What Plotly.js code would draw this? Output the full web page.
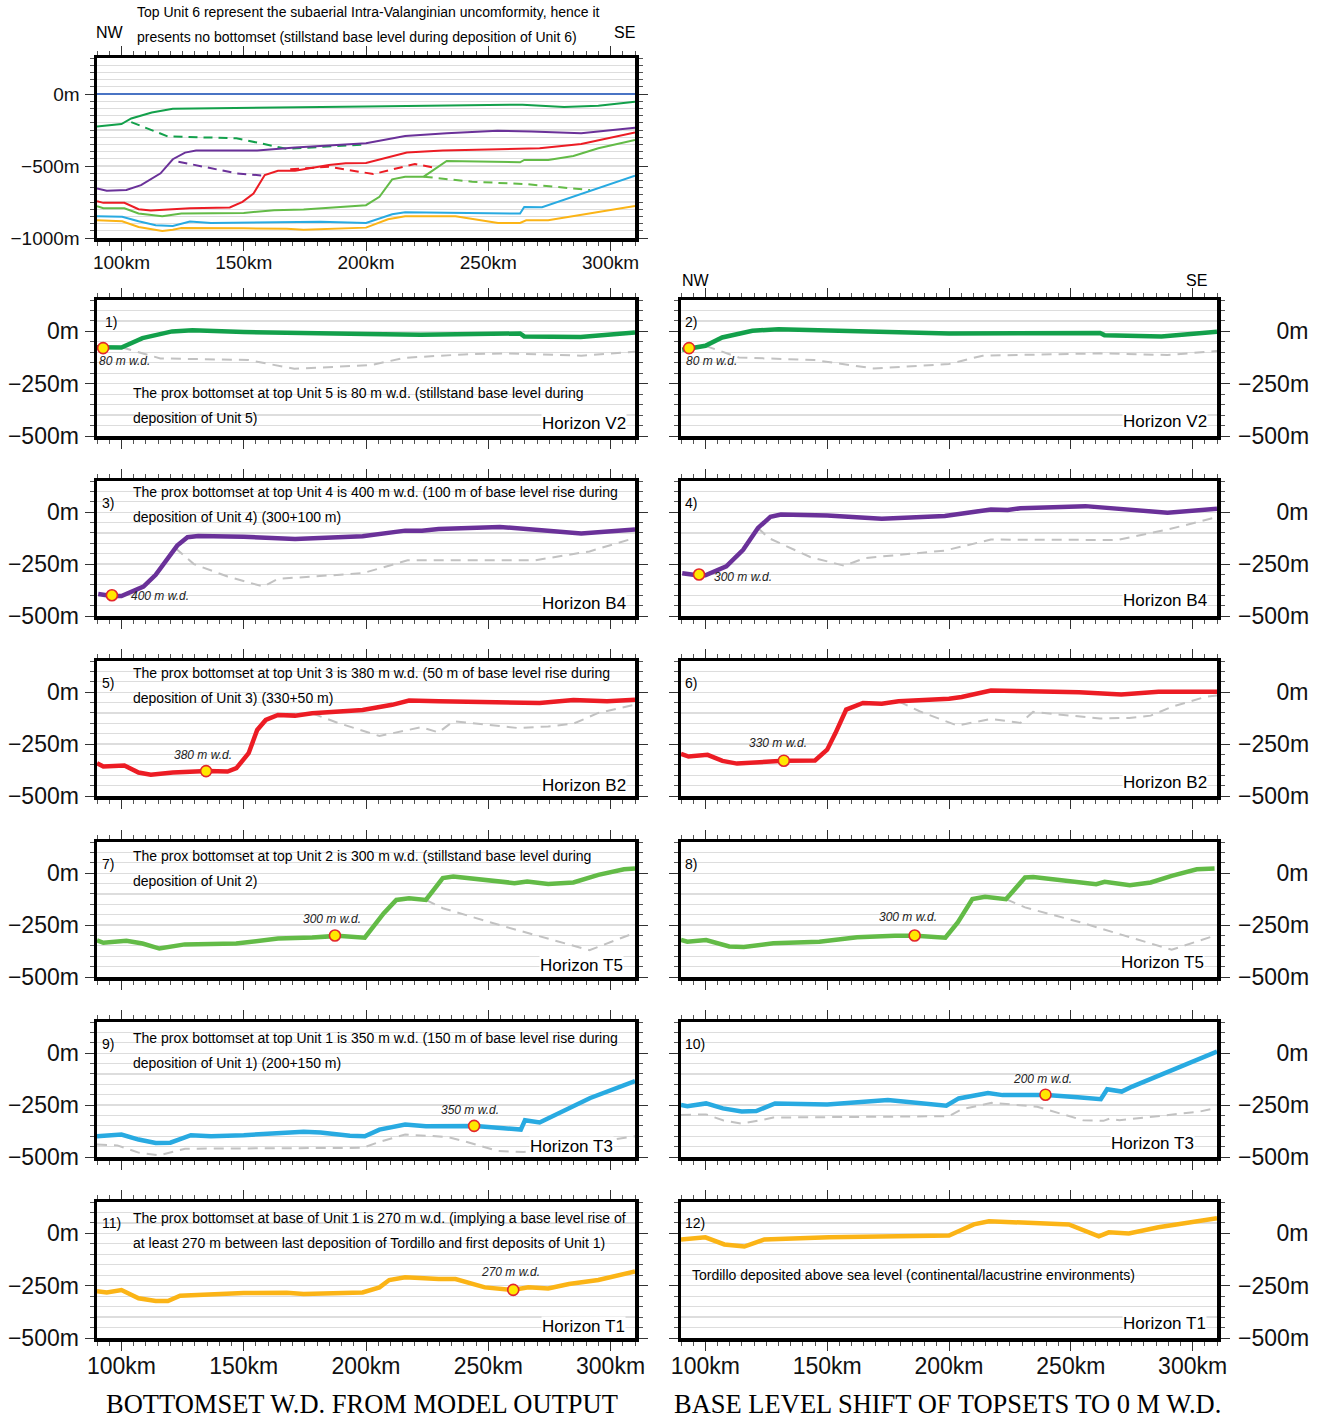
<!DOCTYPE html>
<html>
<head>
<meta charset="utf-8">
<script src="https://cdn.plot.ly/plotly-3.0.1.min.js"></script>
<style>html,body{margin:0;padding:0;background:#fff}</style>
</head>
<body>
<div id="chart" style="width:1317px;height:1421px"></div>
<script>
// ---------- Overview panel: absolute depth of each horizon (m) ----------
const top_km_sea = [90, 310];
const top_sea = [0, 0];
const top_km_v2 = [90, 100, 104, 112.4, 121, 150, 200, 250, 264, 281, 295, 310];
const top_v2 = [-226, -209, -170, -128, -102, -98, -86, -77, -74, -91, -81, -53];
const top_km_v2_dash = [104, 119, 147, 167.6, 200];
const top_v2_dash = [-195, -295, -307, -381, -350];
const top_km_b4 = [90, 94, 102, 108, 116, 121, 126, 130.5, 155.5, 171, 200, 216, 233, 253.8, 267.6, 288, 310];
const top_b4 = [-656, -672, -667, -633, -551, -453, -407, -393, -393, -372, -342, -291, -272, -256, -260, -272, -235];
const top_km_b4_dash = [123.3, 147, 158];
const top_b4_dash = [-470, -551, -567];
const top_km_b2 = [90, 92.6, 101.2, 107, 112, 121, 128, 144.3, 149.5, 154, 158.6, 164, 171, 184.8, 191.7, 200, 216.7, 231.4, 253.8, 271, 288, 298.6, 310];
const top_b2 = [-744, -756, -756, -800, -809, -802, -793, -788, -749, -691, -563, -533, -533, -493, -481, -479, -407, -393, -386, -377, -347, -307, -267];
const top_km_b2_dash = [169, 184.8, 203, 220, 228];
const top_b2_dash = [-523, -505, -556, -486, -512];
const top_km_t5 = [90, 92.6, 101.2, 107, 116.7, 124.5, 150, 162.4, 174.5, 188, 200, 205.5, 210.7, 216, 223.6, 233, 248.6, 263, 264.7, 274.5, 284.8, 295, 310];
const top_t5 = [-779, -793, -793, -830, -849, -830, -826, -807, -802, -784, -772, -714, -593, -574, -574, -465, -470, -474, -458, -458, -430, -377, -319];
const top_km_t5_dash = [223.6, 243.4, 265.5, 291.6];
const top_t5_dash = [-574, -609, -626, -667];
const top_km_t3 = [90, 100.3, 107, 114, 121, 128, 136.6, 171, 181.4, 200, 210.7, 216, 233, 263, 264.7, 272, 310];
const top_t3 = [-849, -853, -884, -912, -916, -886, -895, -893, -888, -895, -835, -821, -826, -830, -784, -786, -567];
const top_km_t1 = [90, 100.3, 107, 116.7, 121, 124.5, 150, 167.6, 174.5, 200, 209, 216, 236.6, 254, 263, 265.5, 274.5, 283, 295, 310];
const top_t1 = [-877, -884, -923, -951, -942, -930, -933, -935, -942, -928, -870, -849, -849, -895, -895, -877, -877, -853, -823, -777];

// ---------- Horizon panels: water depth (m) and previous-horizon profile ----------
const p1_km = [90, 100, 108.6, 120.7, 129, 150, 200, 222.4, 263, 264.7, 287.8, 310];
const p1_wd = [-76, -77, -32, 0, 5, -3, -13, -16, -10, -24, -27, -5];
const p1_prev_km = [100, 115.9, 152, 170.7, 202, 216, 240, 257, 288, 310];
const p1_prev = [-76, -129, -137, -179, -161, -126, -110, -105, -116, -97];

const p2_km = [90.5, 100, 106.9, 119.3, 130, 150, 200, 262, 263.8, 287.2, 310];
const p2_wd = [-88, -69, -29, 3, 10, 3, -10, -8, -18, -24, -2];
const p2_prev_km = [100, 113.8, 144.8, 169, 200, 213.8, 262, 289.6, 310];
const p2_prev = [-69, -125, -137, -177, -156, -116, -105, -113, -94];

const p3_km = [90.5, 96, 100, 109, 114, 119.3, 122.8, 127, 131.4, 150, 171, 198.6, 216, 222.9, 229.7, 254.7, 267.6, 288, 310];
const p3_wd = [-394, -404, -404, -358, -302, -221, -161, -121, -115, -119, -129, -116, -89, -90, -81, -71, -85, -103, -84];
const p3_prev_km = [122, 129.6, 143.4, 158, 164, 198.6, 217, 269, 291.4, 310];
const p3_prev = [-172, -250, -310, -358, -321, -294, -232, -232, -189, -124];

const p4_km = [90.5, 96.6, 100, 108.6, 115.5, 121.6, 126.7, 131, 150, 172.4, 198.3, 217.2, 224.1, 229.3, 256, 270.7, 289.7, 310];
const p4_wd = [-294, -304, -304, -261, -181, -76, -23, -11, -16, -32, -19, 13, 10, 19, 29, 16, -3, 16];
const p4_prev_km = [121.6, 125.9, 143, 157, 165.5, 198.3, 217.2, 269, 289.7, 310];
const p4_prev = [-76, -124, -216, -258, -221, -185, -132, -134, -84, -24];

const p5_km = [90, 92.6, 101.2, 107, 112, 121, 135, 143.4, 147, 152, 155.5, 159, 164, 171, 178, 198.6, 210.7, 217.6, 229.7, 262.4, 271, 284.8, 298.6, 310];
const p5_wd = [-342, -358, -353, -387, -398, -387, -380, -382, -366, -294, -182, -134, -110, -113, -102, -86, -61, -40, -44, -48, -52, -38, -44, -36];
const p5_prev_km = [178, 188.3, 205.5, 222.6, 229.7, 235.7, 262.4, 274.5, 284.8, 295, 310];
const p5_prev = [-102, -147, -211, -169, -194, -140, -173, -165, -152, -100, -60];

const p6_km = [90, 93.1, 100.9, 107, 113, 124, 132, 145, 150, 153.4, 157.8, 164.7, 172.4, 179.3, 200, 205.2, 217.2, 227.6, 253.4, 270.7, 286, 310];
const p6_wd = [-297, -310, -302, -331, -344, -334, -330, -329, -277, -197, -84, -52, -56, -44, -32, -23, 8, 5, 0, -11, 2, 2];
const p6_prev_km = [179.3, 187.9, 203.4, 217.2, 229.3, 234.5, 262, 274, 282.8, 291.4, 305.2, 310];
const p6_prev = [-44, -92, -161, -129, -148, -95, -127, -124, -113, -71, -23, -16];

const p7_km = [90, 92.6, 102, 108.6, 115.5, 125.9, 146.9, 164, 178, 188.3, 199.5, 207.2, 212.4, 217.6, 224.5, 231.4, 235.7, 260.7, 265.9, 274.5, 284.8, 295, 305.5, 310];
const p7_wd = [-323, -335, -326, -339, -363, -343, -339, -315, -310, -302, -311, -194, -129, -121, -129, -24, -16, -48, -40, -52, -45, -8, 19, 23];
const p7_prev_km = [224.5, 231.4, 257, 291.4, 310];
const p7_prev = [-129, -169, -258, -371, -287];

const p8_km = [90, 92.6, 100.3, 109.8, 115.8, 127.9, 146.8, 162.3, 177.8, 186.4, 198.5, 203.6, 209.6, 214.8, 223.4, 231.2, 234.6, 260.4, 263.9, 274.2, 282.8, 291.4, 301.7, 309];
const p8_wd = [-321, -330, -322, -353, -356, -338, -330, -309, -301, -301, -311, -237, -125, -114, -125, -21, -18, -53, -42, -58, -45, -13, 19, 22];
const p8_prev_km = [223.4, 231.2, 254, 291.4, 309];
const p8_prev = [-125, -165, -237, -369, -301];

const p9_km = [90, 100, 107, 114, 120, 128.4, 136.6, 150, 174.5, 181.4, 193.4, 199.5, 205.5, 216, 224.5, 240, 244.8, 263.3, 265, 271, 276.2, 291.7, 310];
const p9_wd = [-400, -392, -416, -432, -431, -395, -400, -395, -379, -382, -398, -400, -368, -344, -352, -352, -351, -368, -323, -334, -303, -216, -134];
const p9_prev_km = [90, 98.3, 107, 115.5, 126, 170.7, 198.6, 205.5, 216, 233, 240, 253.8, 264.5, 295, 310];
const p9_prev = [-440, -444, -479, -492, -460, -456, -456, -427, -392, -403, -423, -471, -476, -427, -400];

const p10_km = [90, 92.6, 100.3, 107.2, 114.9, 120.9, 128.6, 150, 174.9, 191.2, 198.9, 204, 216, 222, 240, 252.9, 262.3, 264.9, 270.9, 275.2, 292.3, 310];
const p10_wd = [-250, -255, -242, -266, -281, -279, -242, -247, -226, -247, -253, -218, -192, -202, -201, -212, -222, -174, -185, -161, -77, 8];
const p10_prev_km = [90, 100.3, 107.2, 114.9, 122.6, 127.9, 174.9, 200, 205, 217.5, 236.2, 255, 263.4, 265.9, 270, 287.4, 302.6, 310];
const p10_prev = [-298, -295, -323, -339, -323, -310, -306, -303, -271, -239, -258, -323, -326, -315, -323, -303, -282, -263];

const p11_km = [90, 94, 100, 107, 114, 119, 124, 150, 167.6, 174.5, 198.6, 205.5, 209.5, 216, 229.7, 236.6, 248.6, 260, 266.4, 274.5, 283, 295, 310];
const p11_wd = [-277, -282, -271, -310, -323, -323, -298, -285, -284, -290, -282, -258, -223, -210, -218, -218, -258, -271, -258, -263, -242, -223, -182];

const p12_km = [90, 100, 107.8, 116, 124.2, 150.8, 200, 210.2, 216.4, 236.9, 249.2, 261.5, 265.6, 273.8, 286, 310];
const p12_wd = [-29, -19, -53, -63, -29, -19, -10, 43, 58, 48, 43, -14, 5, 0, 29, 72];

// Proximal bottomset picks: [km, water depth]
const pick_km = [92.5, 93.3, 96.1, 97.4, 134.6, 132.2, 187.3, 185.9, 244.2, 239.6, 260.2];
const pick_wd = [-80, -80, -400, -300, -380, -330, -300, -300, -350, -200, -270];
const pick_text = ['80 m w.d.', '80 m w.d.', '400 m w.d.', '300 m w.d.', '380 m w.d.', '330 m w.d.',
                   '300 m w.d.', '300 m w.d.', '350 m w.d.', '200 m w.d.', '270 m w.d.'];

const yTickVals = [0, -250, -500];
const topYTickVals = [0, -500, -1000];

// ---------- Styling ----------
const C_SEA = '#4a74c4', C_V2 = '#13a04b', C_B4 = '#6a3199', C_B2 = '#ec1c24',
      C_T5 = '#63bb47', C_T3 = '#28aae1', C_T1 = '#fbb416', C_PREV = '#c2c2c2';
const FONT = 'Liberation Sans, Arial, sans-serif';
const SERIF = 'Liberation Serif, Times New Roman, serif';
const W = 1317, H = 1421;
const fx = v => v / W;
const fy = v => 1 - v / H;

const fmtM = v => (v < 0 ? '\u2212' + Math.abs(v) : String(v)) + 'm';
const padLabel = s => '\u2007'.repeat(Math.max(0, 5 - s.length)) + s;

function xAxis(left, right, anchor, labels, fontSize) {
  return {
    domain: [fx(left), fx(right)], anchor: anchor,
    range: [90, 310], tick0: 0, dtick: 50,
    ticks: 'outside', ticklen: 9, tickwidth: 1, tickcolor: '#333',
    minor: {dtick: 5, ticks: 'outside', ticklen: 4, tickwidth: 1, tickcolor: '#555', showgrid: false},
    showline: true, linewidth: 3.5, linecolor: '#000', mirror: 'ticks',
    showgrid: false, zeroline: false,
    showticklabels: labels, ticksuffix: 'km', ticklabelstandoff: -4,
    tickfont: {family: FONT, size: fontSize, color: '#111'}, fixedrange: true
  };
}

function yAxis(top, bottom, anchor, range, vals, minorStep, side, fontSize) {
  const text = vals.map(v => side === 'right' ? padLabel(fmtM(v)) : fmtM(v));
  return {
    domain: [fy(bottom), fy(top)], anchor: anchor, side: side,
    range: range, tickmode: 'array', tickvals: vals, ticktext: text,
    ticks: 'outside', ticklen: 9, tickwidth: 1, tickcolor: '#333',
    minor: {dtick: minorStep, tick0: 0, ticks: 'outside', ticklen: 4, tickwidth: 1, tickcolor: '#555',
            showgrid: true, gridcolor: '#dddddd', gridwidth: 1.2},
    showline: true, linewidth: 3.5, linecolor: '#000', mirror: 'ticks',
    showgrid: true, gridcolor: '#dddddd', gridwidth: 1.2, zeroline: false,
    ticklabelstandoff: side === 'right' ? 4 : 1,
    tickfont: {family: FONT, size: fontSize, color: '#111'}, fixedrange: true
  };
}

const layout = {
  width: W, height: H, margin: {l: 0, r: 0, t: 0, b: 0},
  paper_bgcolor: '#fff', plot_bgcolor: '#fff', showlegend: false,
  font: {family: FONT, color: '#000'},
  annotations: []
};

// Overview panel
layout.xaxis = xAxis(97, 635, 'y', true, 19);
layout.yaxis = yAxis(58, 238, 'x', [-1000, 250], topYTickVals, 50, 'left', 19);

// Horizon panels
const colX = [[97, 635], [681, 1217]];
const rowY = [[300, 436], [481, 616], [661, 796], [842, 977], [1022, 1157], [1202, 1338]];
for (let i = 0; i < 12; i++) {
  const col = i % 2, row = Math.floor(i / 2), n = i + 2;
  layout['xaxis' + n] = xAxis(colX[col][0], colX[col][1], 'y' + n, row === 5, 23);
  layout['yaxis' + n] = yAxis(rowY[row][0], rowY[row][1], 'x' + n, [-500, 150], yTickVals, 50,
                              col === 0 ? 'left' : 'right', 23);
}

const traces = [];
function line(x, y, ax, color, width, dash) {
  traces.push({
    type: 'scatter', mode: 'lines', x: x, y: y, xaxis: 'x' + ax, yaxis: 'y' + ax,
    line: {color: color, width: width, dash: dash || 'solid'}, hoverinfo: 'skip'
  });
}

// Overview panel traces
const D = '9px,6px';
line(top_km_sea, top_sea, '', C_SEA, 2);
line(top_km_v2_dash, top_v2_dash, '', C_V2, 2, D);
line(top_km_b4_dash, top_b4_dash, '', C_B4, 2, D);
line(top_km_b2_dash, top_b2_dash, '', C_B2, 2, D);
line(top_km_t5_dash, top_t5_dash, '', C_T5, 2, D);
line(top_km_v2, top_v2, '', C_V2, 2);
line(top_km_b4, top_b4, '', C_B4, 2);
line(top_km_b2, top_b2, '', C_B2, 2);
line(top_km_t5, top_t5, '', C_T5, 2);
line(top_km_t3, top_t3, '', C_T3, 2);
line(top_km_t1, top_t1, '', C_T1, 2);

// Horizon panel traces
const panels = [
  [p1_km, p1_wd, p1_prev_km, p1_prev, C_V2],
  [p2_km, p2_wd, p2_prev_km, p2_prev, C_V2],
  [p3_km, p3_wd, p3_prev_km, p3_prev, C_B4],
  [p4_km, p4_wd, p4_prev_km, p4_prev, C_B4],
  [p5_km, p5_wd, p5_prev_km, p5_prev, C_B2],
  [p6_km, p6_wd, p6_prev_km, p6_prev, C_B2],
  [p7_km, p7_wd, p7_prev_km, p7_prev, C_T5],
  [p8_km, p8_wd, p8_prev_km, p8_prev, C_T5],
  [p9_km, p9_wd, p9_prev_km, p9_prev, C_T3],
  [p10_km, p10_wd, p10_prev_km, p10_prev, C_T3],
  [p11_km, p11_wd, null, null, C_T1],
  [p12_km, p12_wd, null, null, C_T1]
];
panels.forEach((p, i) => {
  const ax = i + 2;
  if (p[2]) line(p[2], p[3], ax, C_PREV, 2, '10px,7px');
  line(p[0], p[1], ax, p[4], 4.5);
});

// Bottomset picks (one per panel 1-11)
pick_km.forEach((k, i) => {
  traces.push({
    type: 'scatter', mode: 'markers', x: [k], y: [pick_wd[i]],
    xaxis: 'x' + (i + 2), yaxis: 'y' + (i + 2), cliponaxis: false, hoverinfo: 'skip',
    marker: {size: 11, color: '#ffe800', line: {color: '#e3262b', width: 1.6}}
  });
});

// Pick labels, offset from their marker
const pickLabelPos = [
  ['left', -6, -13], ['left', -5, -13], ['left', 17, -1], ['left', 13, -3],
  ['center', -3, 16], ['center', -6, 18], ['center', -3, 16], ['center', -7, 18],
  ['center', -4, 16], ['center', -3, 16], ['center', -3, 18]
];
pick_km.forEach((k, i) => {
  const p = pickLabelPos[i];
  layout.annotations.push({
    xref: 'x' + (i + 2), yref: 'y' + (i + 2), x: k, y: pick_wd[i],
    xanchor: p[0], yanchor: 'middle', xshift: p[1], yshift: p[2],
    text: '<i>' + pick_text[i] + '</i>', showarrow: false,
    font: {family: FONT, size: 12, color: '#222'}
  });
});

function note(text, x, y, size, anchor, extra) {
  layout.annotations.push(Object.assign({
    xref: 'paper', yref: 'paper', x: fx(x), y: fy(y), xanchor: anchor || 'left', yanchor: 'middle',
    text: text, showarrow: false, font: {family: FONT, size: size, color: '#000'}
  }, extra || {}));
}

// Header of the overview panel
note('Top Unit 6 represent the subaerial Intra-Valanginian uncomformity, hence it', 135, 12, 14);
note('presents no bottomset (stillstand base level during deposition of Unit 6)', 135, 37, 14);
note('NW', 110, 33, 16, 'center');
note('SE', 624, 33, 16, 'center');
note('NW', 696, 280, 16, 'center');
note('SE', 1196, 280, 16, 'center');

// Panel descriptions
const descr = [
  ['The prox bottomset at top Unit 5 is 80 m w.d. (stillstand base level during', 'deposition of Unit 5)', 393],
  ['The prox bottomset at top Unit 4 is 400 m w.d. (100 m of base level rise during', 'deposition of Unit 4) (300+100 m)', 492],
  ['The prox bottomset at top Unit 3 is 380 m w.d. (50 m of base level rise during', 'deposition of Unit 3) (330+50 m)', 673],
  ['The prox bottomset at top Unit 2 is 300 m w.d. (stillstand base level during', 'deposition of Unit 2)', 856],
  ['The prox bottomset at top Unit 1 is 350 m w.d. (150 m of base level rise during', 'deposition of Unit 1) (200+150 m)', 1038],
  ['The prox bottomset at base of Unit 1 is 270 m w.d. (implying a base level rise of', 'at least 270 m between last deposition of Tordillo and first deposits of Unit 1)', 1218]
];
descr.forEach(d => { note(d[0], 131, d[2], 14); note(d[1], 131, d[2] + 25, 14); });
note('Tordillo deposited above sea level (continental/lacustrine environments)', 690, 1275, 14);

// Panel numbers
const numY = [322, 503, 683, 864, 1044, 1223];
for (let i = 0; i < 12; i++) {
  const col = i % 2, row = Math.floor(i / 2);
  note((i + 1) + ')', col === 0 ? (i === 0 ? 103 : 100) : 683, numY[row], 14);
}

// Horizon names
const horizonNames = ['Horizon V2', 'Horizon V2', 'Horizon B4', 'Horizon B4', 'Horizon B2', 'Horizon B2',
                      'Horizon T5', 'Horizon T5', 'Horizon T3', 'Horizon T3', 'Horizon T1', 'Horizon T1'];
const horizonPos = [[627, 423], [1208, 421], [627, 603], [1208, 600], [627, 785], [1208, 782],
                    [624, 965], [1205, 962], [614, 1146], [1195, 1143], [626, 1326], [1207, 1323]];
horizonNames.forEach((t, i) => note(t, horizonPos[i][0], horizonPos[i][1], 17, 'right',
  {bgcolor: '#ffffff', borderpad: 0}));

// Column titles
note('BOTTOMSET W.D. FROM MODEL OUTPUT', 362, 1404, 26.5, 'center',
  {font: {family: SERIF, size: 26.5, color: '#000'}, borderpad: 0});
note('BASE LEVEL SHIFT OF TOPSETS TO 0 M W.D.', 948, 1404, 26.5, 'center',
  {font: {family: SERIF, size: 26.5, color: '#000'}, borderpad: 0});

Plotly.newPlot('chart', traces, layout, {staticPlot: true, displayModeBar: false});
</script>
</body>
</html>
